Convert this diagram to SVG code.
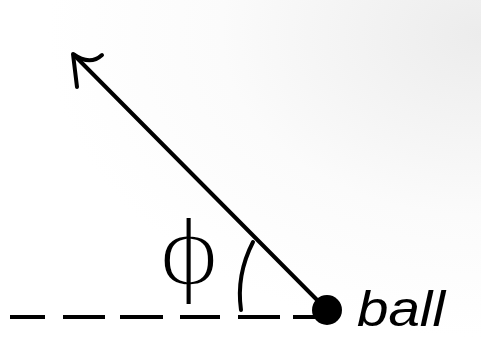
<svg xmlns="http://www.w3.org/2000/svg" width="481" height="337" viewBox="0 0 481 337">
<defs>
<radialGradient id="bg" cx="1" cy="0.1" r="0.9">
<stop offset="0" stop-color="#ececec"/>
<stop offset="0.6" stop-color="#fbfbfb"/>
<stop offset="1" stop-color="#ffffff"/>
</radialGradient>
<style>
.ink{fill:none;stroke:#000;stroke-width:4;stroke-linecap:round;stroke-linejoin:round}
.dash{fill:none;stroke:#000;stroke-width:4;stroke-linecap:butt}
.lbl{font-family:"Liberation Sans",Arial,sans-serif;fill:#000}
</style>
</defs>
<rect width="481" height="337" fill="url(#bg)"/>
<g id="connectors">
<path id="dashed-line" class="dash" d="M10,317H45M63,317H105M120,317H163M180,317H220M238,317H280M293,317H320"/>
<path id="arrow" class="ink" d="M327,310L74,55"/>
<path id="arrow-head" class="ink" d="M77,87L73,54Q90,66 102,55"/>
<path id="angle-arc" class="ink" stroke-width="3" d="M253,242Q236,275 241,310"/>
</g>
<g id="ball">
<ellipse cx="327" cy="310" rx="15" ry="15" fill="#000"/>
</g>
<g id="ball-label">
<text class="lbl" x="357" y="326" font-size="50" font-style="italic" textLength="88" lengthAdjust="spacingAndGlyphs">ball</text>
</g>
<g id="phi-label">
<text class="lbl" x="0" y="0" font-size="96" text-anchor="middle" font-family="DejaVu Sans, sans-serif" stroke="#fff" stroke-width="4" transform="translate(189,286) scale(1.15,1)">ϕ</text>
</g>
</svg>
